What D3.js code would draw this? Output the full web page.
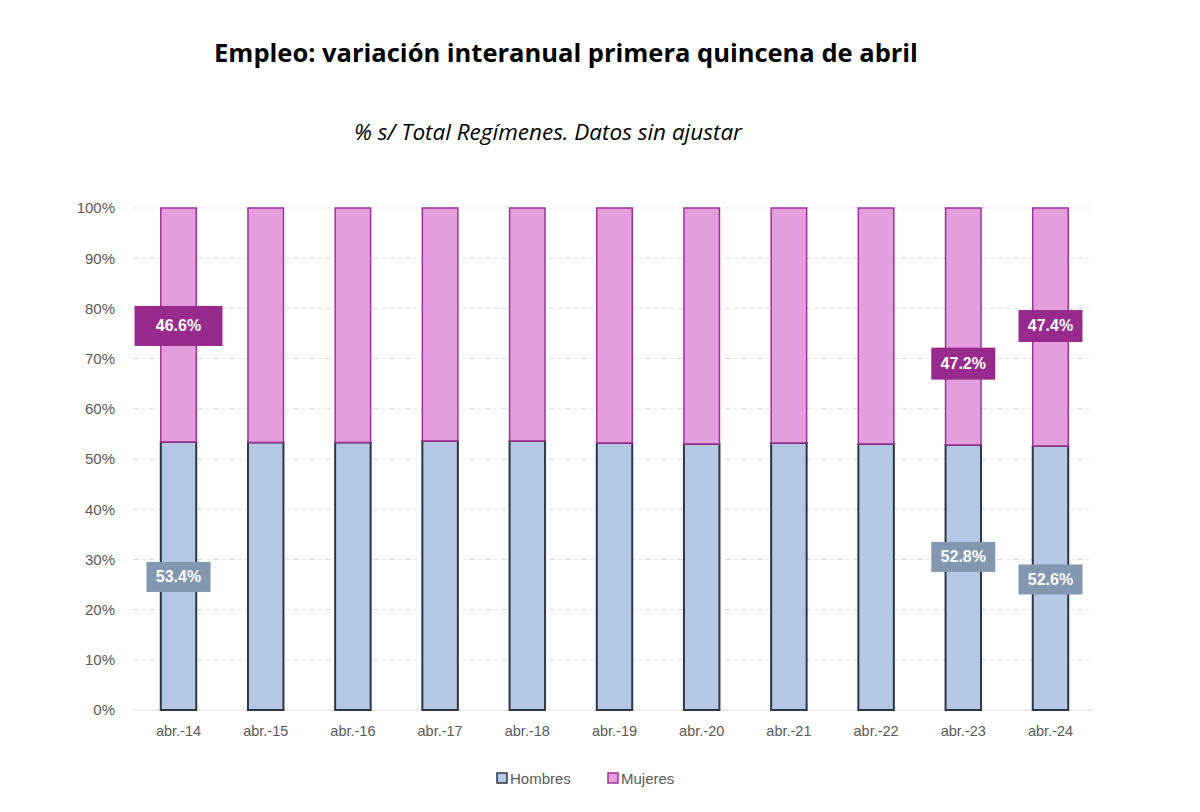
<!DOCTYPE html>
<html><head><meta charset="utf-8">
<script src="https://cdn.jsdelivr.net/npm/d3@7"></script>
<style>body{margin:0;background:#fff;} svg{display:block;}</style>
</head><body>
<svg id="c" width="1200" height="812"></svg>
<script>
const categories = ["abr.-14","abr.-15","abr.-16","abr.-17","abr.-18","abr.-19","abr.-20","abr.-21","abr.-22","abr.-23","abr.-24"];
const hombres = [53.4, 53.3, 53.3, 53.6, 53.6, 53.2, 53.0, 53.2, 53.0, 52.8, 52.6];
const mujeres = hombres.map(h => +(100 - h).toFixed(1));
const yTicks = [0,10,20,30,40,50,60,70,80,90,100];
const labelled = ["abr.-14","abr.-23","abr.-24"];

const svg = d3.select("#c");
const pLeft = 133, pRight = 1093, pTop = 208, pBottom = 710;
const x = d3.scaleBand().domain(categories).range([134, 1095]).paddingInner(0.593).paddingOuter(0.307);
const y = d3.scaleLinear().domain([0,100]).range([pBottom, pTop]);

svg.append("text").attr("x", 566).attr("y", 62).attr("text-anchor","middle")
  .attr("font-family","Open Sans, sans-serif").attr("font-weight","bold").attr("font-size",25.5)
  .attr("fill","#000").text("Empleo: variación interanual primera quincena de abril");
svg.append("text").attr("x", 548).attr("y", 140).attr("text-anchor","middle")
  .attr("font-family","Open Sans, sans-serif").attr("font-style","italic").attr("font-size",22.5)
  .attr("fill","#000").text("% s/ Total Regímenes. Datos sin ajustar");

// grid
svg.append("g").selectAll("line").data(yTicks.filter(d=>d>0)).join("line")
  .attr("x1", pLeft).attr("x2", pRight).attr("y1", d=>y(d)).attr("y2", d=>y(d))
  .attr("stroke","#d9d9d9").attr("stroke-width",1).attr("stroke-dasharray","6,4,2,4");
svg.append("line").attr("x1",pLeft).attr("x2",pRight).attr("y1",y(0)).attr("y2",y(0))
  .attr("stroke","#d9d9d9").attr("stroke-width",1.2);

// y axis
const ya = svg.append("g").attr("transform",`translate(${pLeft},0)`)
  .call(d3.axisLeft(y).tickValues(yTicks).tickFormat(d=>d+"%").tickSize(0).tickPadding(18));
ya.select(".domain").remove();
ya.selectAll("text").attr("font-family","Liberation Sans, Arial, sans-serif").attr("font-size",15).attr("fill","#595959");

// x axis
const xa = svg.append("g").attr("transform",`translate(0,${pBottom})`)
  .call(d3.axisBottom(x).tickSize(0).tickPadding(16));
xa.select(".domain").remove();
xa.selectAll("text").attr("font-family","Liberation Sans, Arial, sans-serif").attr("font-size",14.5).attr("fill","#595959");

// bars
const g = svg.append("g");
g.selectAll("rect.h").data(categories).join("rect").attr("class","h")
  .attr("x", d=>x(d)).attr("width", x.bandwidth())
  .attr("y", (d,i)=>y(hombres[i])).attr("height",(d,i)=>y(0)-y(hombres[i]))
  .attr("fill","#b4c7e7").attr("stroke","#2f3640").attr("stroke-width",2);
g.selectAll("rect.m").data(categories).join("rect").attr("class","m")
  .attr("x", d=>x(d)).attr("width", x.bandwidth())
  .attr("y", (d,i)=>y(100)).attr("height",(d,i)=>y(hombres[i])-y(100))
  .attr("fill","#e49edd").attr("stroke","#a0309a").attr("stroke-width",1.5);

// data labels
const mLabelPos = {"abr.-14":76.5, "abr.-23":69.0, "abr.-24":76.5};
const hLabelPos = {"abr.-14":26.5, "abr.-23":30.5, "abr.-24":26.0};
labelled.forEach(c=>{
  const i = categories.indexOf(c);
  const cx = x(c) + x.bandwidth()/2;
  const big = c === "abr.-14";
  const mw = big ? 88 : 64, mh = big ? 40 : 32;
  const my = y(mLabelPos[c]);
  svg.append("rect").attr("x", cx - mw/2).attr("y", my - mh/2).attr("width", mw).attr("height", mh).attr("fill","#982a8e");
  svg.append("text").attr("x", cx).attr("y", my+5.5).attr("text-anchor","middle")
    .attr("font-family","Liberation Sans, Arial, sans-serif").attr("font-weight","bold").attr("font-size",16)
    .attr("fill","#fff").text(mujeres[i].toFixed(1)+"%");
  const hw = 64, hh = 30;
  const hy = y(hLabelPos[c]);
  svg.append("rect").attr("x", cx - hw/2).attr("y", hy - hh/2).attr("width", hw).attr("height", hh).attr("fill","#8497b0");
  svg.append("text").attr("x", cx).attr("y", hy+5.5).attr("text-anchor","middle")
    .attr("font-family","Liberation Sans, Arial, sans-serif").attr("font-weight","bold").attr("font-size",16)
    .attr("fill","#fff").text(hombres[i].toFixed(1)+"%");
});

// legend
const legend = [{n:"Hombres",f:"#b4c7e7",s:"#2f3640",x:497},{n:"Mujeres",f:"#e49edd",s:"#a0309a",x:608}];
const lg = svg.append("g");
legend.forEach(l=>{
  lg.append("rect").attr("x", l.x).attr("y", 773).attr("width",10).attr("height",10)
    .attr("fill", l.f).attr("stroke", l.s).attr("stroke-width",1.5);
  lg.append("text").attr("x", l.x+13).attr("y", 784)
    .attr("font-family","Liberation Sans, Arial, sans-serif").attr("font-size",15).attr("fill","#595959").text(l.n);
});
</script>
</body></html>
